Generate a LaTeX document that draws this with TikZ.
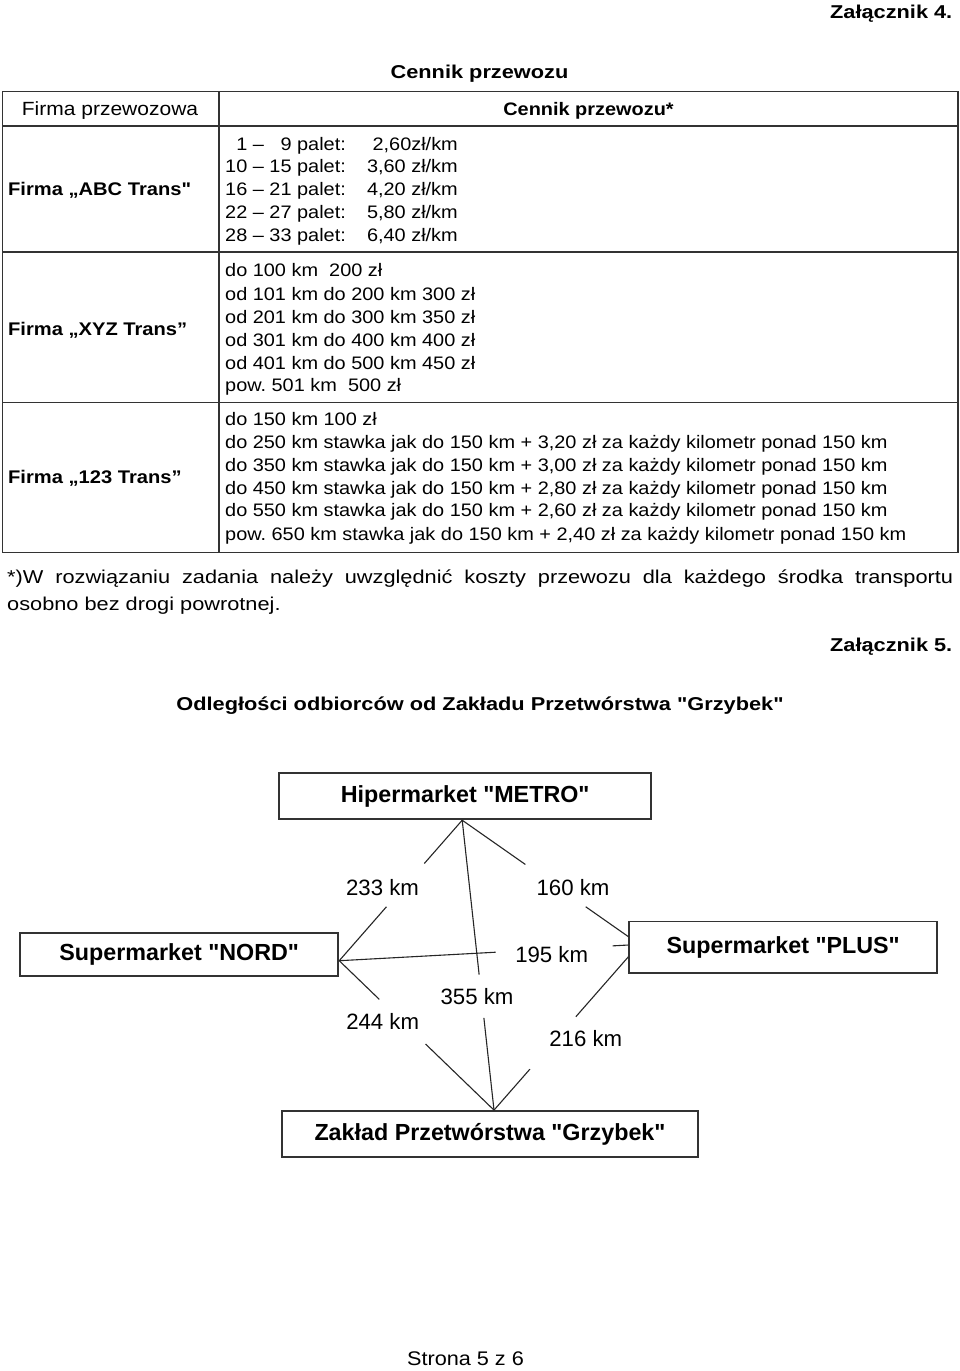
\documentclass[tikz,border=0pt]{standalone}
\usepackage{fontspec}
\setmainfont{Liberation Sans}
\newfontfamily\plainfam{Liberation Sans}
\newfontfamily\midfam[FakeStretch=1.1]{Liberation Sans}
\newfontfamily\widefam[FakeStretch=1.17]{Liberation Sans}
\usetikzlibrary{calc}
\newcommand{\cellf}{\midfam\fontsize{18.1}{23.3}\selectfont}
\newcommand{\hdrf}{\midfam\fontsize{19.1}{23}\selectfont}
\newcommand{\hdrbf}{\midfam\fontsize{18.1}{23}\selectfont\bfseries}
\newcommand{\rowf}{\midfam\fontsize{18.3}{23}\selectfont\bfseries}
\newcommand{\titf}{\widefam\fontsize{18.6}{23}\selectfont\bfseries}
\newcommand{\notef}{\widefam\fontsize{18.6}{26}\selectfont}
\newcommand{\pagef}{\midfam\fontsize{19.7}{24}\selectfont}
\newcommand{\distf}{\plainfam\fontsize{22.2}{26}\selectfont}
\newcommand{\boxf}{\plainfam\fontsize{23.3}{27}\selectfont\bfseries}
\begin{document}
\begin{tikzpicture}[x=1pt,y=-1pt,
  tl/.style={inner sep=0pt, anchor=base west, font=\cellf},
  tr/.style={inner sep=0pt, anchor=base east, font=\cellf},
  grid/.style={line width=1.5pt, draw=black!80},
  place/.style={draw=black!80, line width=1.8pt, inner sep=0pt, font=\boxf},
  road/.style={line width=1.1pt, draw=black!85},
  dist/.style={inner sep=0pt, anchor=base, font=\distf}]
\useasboundingbox (0,0) rectangle (960,1371);
\fill[white] (0,0) rectangle (960,1371);

% headings
\node[inner sep=0pt, anchor=base east, font=\titf] (z4) at (952.5,18.5) {Załącznik 4.};
\node[inner sep=0pt, anchor=base, font=\titf] (title1) at (479.5,78.3) {Cennik przewozu};

% table grid
\draw[grid] (2.5,91.5) rectangle (958,552.5);
\draw[grid] (219,91.5) -- (219,552.5);
\draw[grid] (2.5,126) -- (958,126);
\draw[grid] (2.5,252) -- (958,252);
\draw[grid] (2.5,402.5) -- (958,402.5);

% header
\node[inner sep=0pt, anchor=base, font=\hdrf] (h1) at (110,115.7) {Firma przewozowa};
\node[inner sep=0pt, anchor=base, font=\hdrbf] (h2) at (588.5,115.7) {Cennik przewozu*};

% row labels
\node[inner sep=0pt, anchor=base west, font=\rowf] (r1) at (8,195.5) {Firma „ABC Trans"};
\node[inner sep=0pt, anchor=base west, font=\rowf] (r2) at (8,335) {Firma „XYZ Trans”};
\node[inner sep=0pt, anchor=base west, font=\rowf] (r3) at (8,483.5) {Firma „123 Trans”};

% ABC rows
\node[tl] (a1) at (225,150) {\hphantom{1}1 – \hphantom{1}9 palet:};
\node[tl] (a2) at (225,172.3) {10 – 15 palet:};
\node[tl] (a3) at (225,195.3) {16 – 21 palet:};
\node[tl] (a4) at (225,218.3) {22 – 27 palet:};
\node[tl] (a5) at (225,241) {28 – 33 palet:};
\node[tr] (p1) at (458,150) {2,60zł/km};
\node[tr] (p2) at (458,172.3) {3,60 zł/km};
\node[tr] (p3) at (458,195.3) {4,20 zł/km};
\node[tr] (p4) at (458,218.3) {5,80 zł/km};
\node[tr] (p5) at (458,241) {6,40 zł/km};

% XYZ rows
\node[tl] (x1) at (225,276.7) {do 100 km\ \ 200 zł};
\node[tl] (x2) at (225,300) {od 101 km do 200 km 300 zł};
\node[tl] (x3) at (225,323) {od 201 km do 300 km 350 zł};
\node[tl] (x4) at (225,346) {od 301 km do 400 km 400 zł};
\node[tl] (x5) at (225,369) {od 401 km do 500 km 450 zł};
\node[tl] (x6) at (225,391.7) {pow.\ 501 km\ \ 500 zł};

% 123 rows
\node[tl] (t1) at (225,425) {do 150 km 100 zł};
\node[tl] (t2) at (225,448.3) {do 250 km stawka jak do 150 km + 3,20 zł za każdy kilometr ponad 150 km};
\node[tl] (t3) at (225,471) {do 350 km stawka jak do 150 km + 3,00 zł za każdy kilometr ponad 150 km};
\node[tl] (t4) at (225,494.3) {do 450 km stawka jak do 150 km + 2,80 zł za każdy kilometr ponad 150 km};
\node[tl] (t5) at (225,516.7) {do 550 km stawka jak do 150 km + 2,60 zł za każdy kilometr ponad 150 km};
\node[tl] (t6) at (225,540) {pow.\ 650 km stawka jak do 150 km + 2,40 zł za każdy kilometr ponad 150 km};

% footnote
\node[inner sep=0pt, anchor=base west, font=\notef] (n1) at (7,583.5) {\makebox[946pt][s]{*)W rozwiązaniu zadania należy uwzględnić koszty przewozu dla każdego środka transportu}};
\node[inner sep=0pt, anchor=base west, font=\notef] (n2) at (7,610.5) {osobno bez drogi powrotnej.};

\node[inner sep=0pt, anchor=base east, font=\titf] (z5) at (952.5,651.5) {Załącznik 5.};
\node[inner sep=0pt, anchor=base, font=\titf] (title2) at (480,710) {Odległości odbiorców od Zakładu Przetwórstwa "Grzybek"};

% diagram boxes
\node[place, minimum width=371.7pt, minimum height=46pt] (metro) at (465.2,796.3) {Hipermarket "METRO"};
\node[place, minimum width=318.3pt, minimum height=43.3pt] (nord) at (179.2,954.3) {Supermarket "NORD"};
\node[place, minimum width=307.7pt, minimum height=51.5pt] (plus) at (783.2,947.2) {Supermarket "PLUS"};
\node[place, minimum width=416pt, minimum height=46pt] (zaklad) at (490,1134) {Zakład Przetwórstwa "Grzybek"};

% attachment points
\coordinate (mB) at ([xshift=-3pt]metro.south);
\coordinate (nE) at ([yshift=-6.4pt]nord.east);
\coordinate (zT) at ([xshift=4pt]zaklad.north);
\coordinate (pA) at ([yshift=10.5pt]plus.west);
\coordinate (pB) at ([yshift=2.2pt]plus.west);
\coordinate (pC) at ([yshift=-9.5pt]plus.west);

% distance labels
\node[dist] (d233) at (382.5,895.5) {233 km};
\node[dist] (d160) at (573,895.5) {160 km};
\node[dist] (d195) at (551.7,962.3) {195 km};
\node[dist] (d355) at (477,1004) {355 km};
\node[dist] (d244) at (382.7,1029.3) {244 km};
\node[dist] (d216) at (585.8,1046.7) {216 km};

% roads
\draw[road] (mB) -- ($(mB)!0.308!(nE)$);
\draw[road] ($(mB)!0.616!(nE)$) -- (nE);
\draw[road] (mB) -- ($(mB)!0.38!(pA)$);
\draw[road] ($(mB)!0.743!(pA)$) -- (pA);
\draw[road] (mB) -- ($(mB)!0.533!(zT)$);
\draw[road] ($(mB)!0.682!(zT)$) -- (zT);
\draw[road] (nE) -- ($(nE)!0.541!(pB)$);
\draw[road] ($(nE)!0.945!(pB)$) -- (pB);
\draw[road] (nE) -- ($(nE)!0.259!(zT)$);
\draw[road] ($(nE)!0.558!(zT)$) -- (zT);
\draw[road] (pC) -- ($(pC)!0.391!(zT)$);
\draw[road] ($(pC)!0.733!(zT)$) -- (zT);

% page footer
\node[inner sep=0pt, anchor=base, font=\pagef] (page) at (465.5,1365.7) {Strona 5 z 6};
\end{tikzpicture}
\end{document}
